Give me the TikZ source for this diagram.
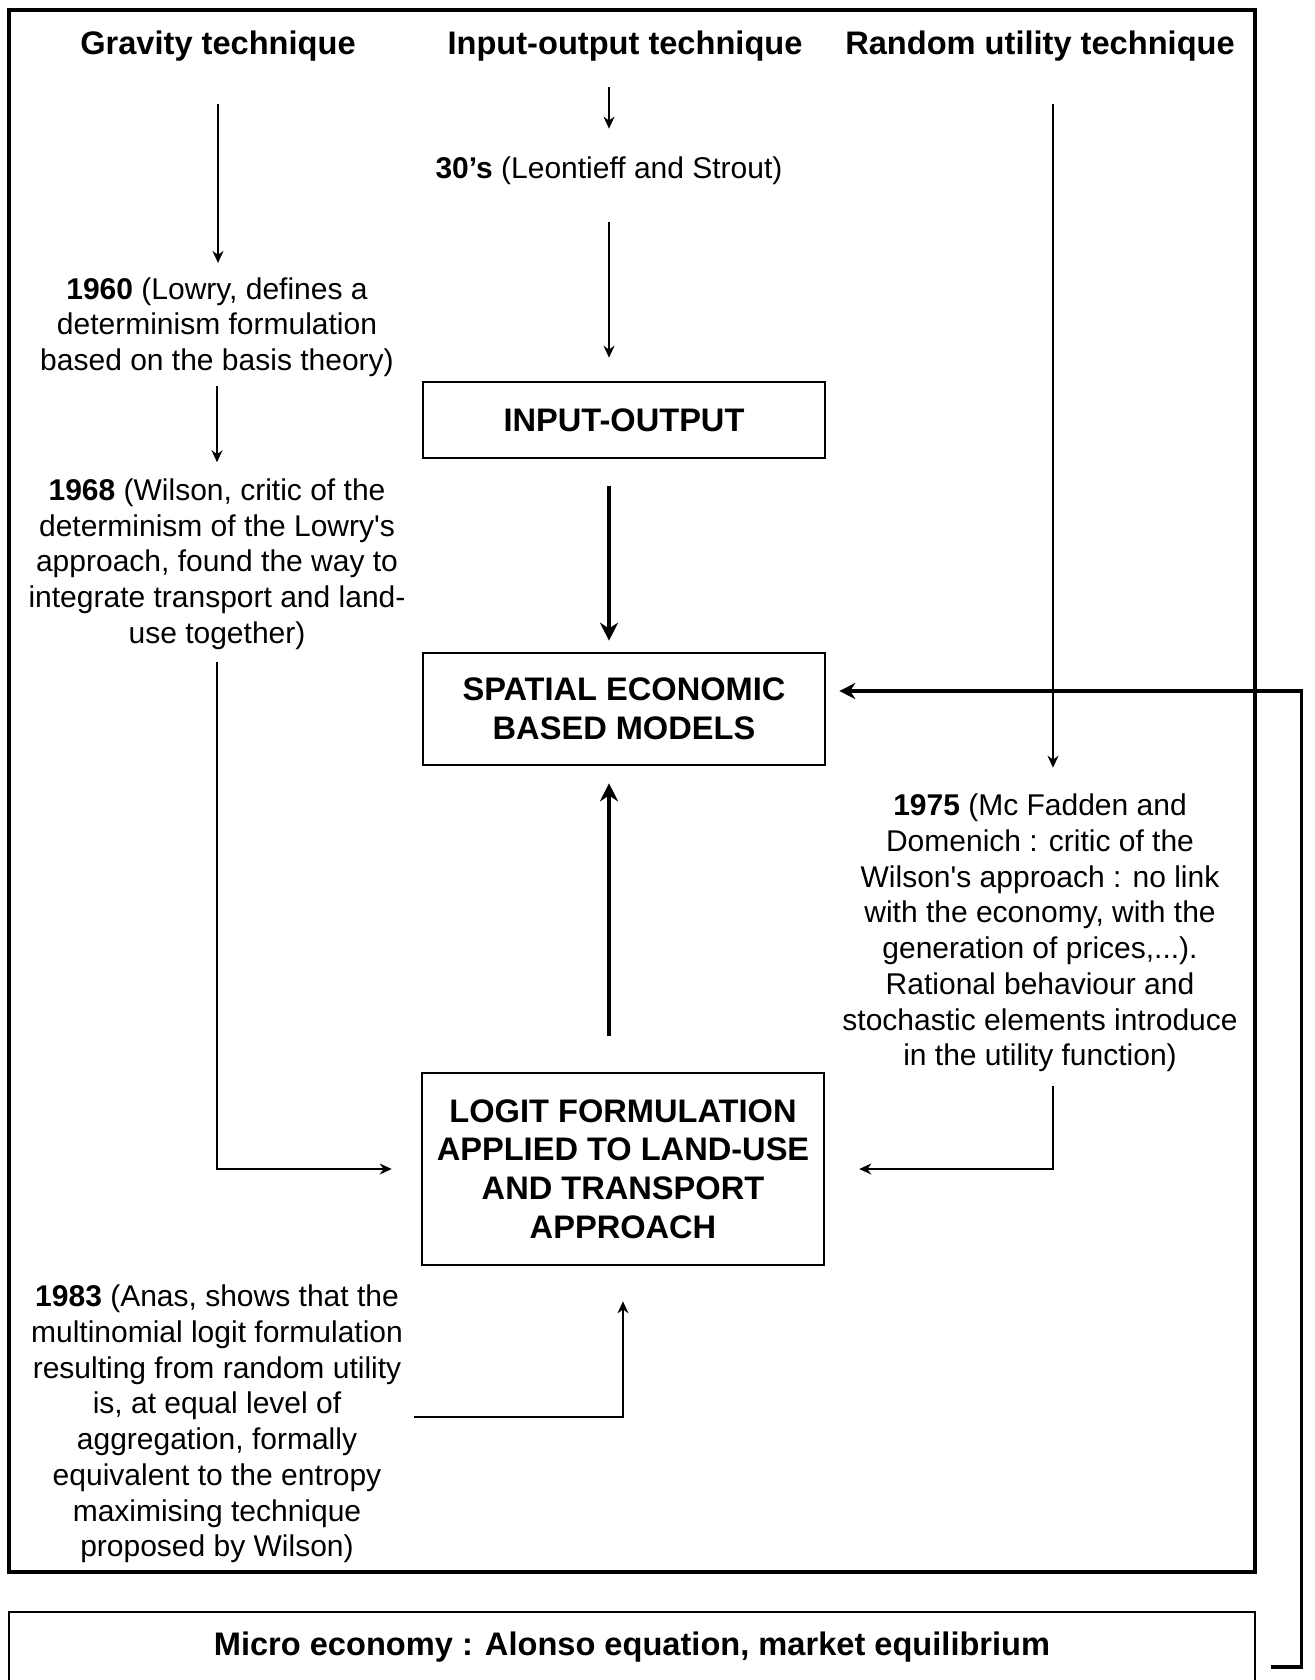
\documentclass[tikz,border=0pt]{standalone}
\usepackage{fontspec}
\setmainfont{Liberation Sans}
\usetikzlibrary{arrows.meta}

\begin{document}
\begin{tikzpicture}[
  x=0.5pt,
  y=-0.5pt,
  >={Stealth[length=6pt,width=5.5pt]},
  title/.style={font=\bfseries\fontsize{16.3}{19.3}\selectfont},
  note/.style={
    align=center,
    inner sep=0pt,
    font=\fontsize{15}{17.85}\selectfont,
  },
  stage/.style={
    draw,
    line width=1.3pt,
    align=center,
    minimum width=201pt,
    font=\bfseries\fontsize{16.3}{19.3}\selectfont,
  },
  thin/.style={line width=0.7pt,->},
  heavy/.style={line width=2pt,-{Stealth[length=9pt,width=9pt]}},
]
  \useasboundingbox (0,0) rectangle (1314,1680);
  \draw[line width=1.6pt] (9,10) rectangle (1255,1572);

  \node[title] (grav) at (218,46) {Gravity technique};
  \node[title] (io) at (625,46) {Input-output technique};
  \node[title] (rand) at (1040,46) {Random utility technique};

  \node[note] (io30) at (609,171) {\textbf{30's} (Leontieff and Strout)};
  \node[note] (t1960) at (217,327) {\textbf{1960} (Lowry, defines a\\
    determinism formulation\\based on the basis theory)};
  \node[note] (t1968) at (217,564) {\textbf{1968} (Wilson, critic of the\\
    determinism of the Lowry\textquotesingle s\\approach, found the way to\\
    integrate transport and land-\\use together)};
  \node[note] (t1975) at (1040,933) {\textbf{1975} (Mc Fadden and\\
    Domenich : critic of the\\Wilson\textquotesingle s approach : no link\\
    with the economy, with the\\generation of prices,...).\\
    Rational behaviour and\\stochastic elements introduce\\
    in the utility function)};
  \node[note] (t1983) at (217,1424) {\textbf{1983} (Anas, shows that the\\
    multinomial logit formulation\\resulting from random utility\\
    is, at equal level of\\aggregation, formally\\
    equivalent to the entropy\\maximising technique\\proposed by Wilson)};

  \node[stage,minimum height=38pt] (iobox) at (624,420) {INPUT-OUTPUT};
  \node[stage,minimum height=56pt] (spatial) at (624,709)
    {SPATIAL ECONOMIC\\BASED MODELS};
  \node[stage,minimum height=96pt] (logit) at (623,1169)
    {LOGIT FORMULATION\\APPLIED TO LAND-USE\\AND TRANSPORT\\APPROACH};

  \node[title,draw,line width=1.3pt,minimum width=623pt,minimum height=35pt]
    (micro) at (632,1647) {Micro economy : Alonso equation, market equilibrium};
  \coordinate (fb) at ([xshift=7.5pt,yshift=-10pt]micro.east);

  \draw[thin,shorten <=18pt,shorten >=7pt] (grav.south) -- (grav.south |- t1960.north);
  \draw[thin,shorten <=4.5pt,shorten >=8pt] (t1960.south) -- (t1960.south |- t1968.north);
  \draw[thin,shorten <=6pt,shorten >=14.5pt] (t1968.south) |- (logit.west);
  \draw[thin,shorten <=9.5pt,shorten >=14pt] (io.south -| io30.north) -- (io30.north);
  \draw[thin,shorten <=18.5pt,shorten >=11.5pt] (io30.south) -- (io30.south |- iobox.north);
  \draw[heavy,shorten <=13.5pt,shorten >=5.5pt] (iobox.south -| io30.south) -- (spatial.north -| io30.south);
  \draw[heavy,shorten <=18pt,shorten >=8.5pt] (logit.north -| io30.south) -- (spatial.south -| io30.south);
  \draw[thin,shorten <=18pt,shorten >=13pt] ([xshift=6.5pt]rand.south) -- ([xshift=6.5pt]rand.south |- t1975.north);
  \draw[thin,shorten <=7pt,shorten >=17pt] ([xshift=6.5pt]t1975.south) |- (logit.east);
  \draw[thin,shorten <=5.5pt,shorten >=17.5pt] ([yshift=3.5pt]t1983.east) -| (logit.south);
  \draw[line width=1.7pt,-{Stealth[length=8pt,width=8pt]},shorten >=6.5pt]
    (fb) -- ++(30,0) |- ([yshift=9pt]spatial.east);
\end{tikzpicture}
\end{document}
